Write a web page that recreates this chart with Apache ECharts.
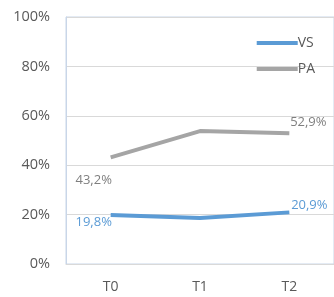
<!DOCTYPE html>
<html><head><meta charset="utf-8">
<script src="https://cdn.jsdelivr.net/npm/echarts@6/dist/echarts.min.js"></script>
<style>html,body{margin:0;padding:0;background:#fff}#c{width:334px;height:297px}</style>
</head><body><div id="c"></div>
<script>
var categories = ['T0', 'T1', 'T2'];
var vsValues = [19.8, 18.6, 20.9];
var paValues = [43.2, 53.8, 52.9];
var yTicks = [0, 20, 40, 60, 80, 100];

var fontFam = '"Open Sans", "Noto Sans", sans-serif';
function fmt(v) { return v.toFixed(1).replace('.', ',') + '%'; }
function labelled(values, color, idxOffsets) {
  return values.map(function (v, i) {
    var o = idxOffsets[i];
    if (!o) return { value: v, label: { show: false } };
    return { value: v, label: { show: true, position: 'inside', offset: o, color: color,
      fontSize: 13, fontFamily: fontFam, formatter: function (p) { return fmt(p.value); } } };
  });
}
var chart = echarts.init(document.getElementById('c'));
chart.setOption({
  animation: false,
  grid: { left: 66, right: 0, top: 17, bottom: 33, show: true, borderColor: '#c9d6e8', borderWidth: 1 },
  legend: {
    right: 14, top: 31, orient: 'vertical', itemWidth: 41, itemHeight: 4, itemGap: 12,
    icon: 'rect', textStyle: { color: '#595959', fontSize: 14, fontFamily: fontFam, padding: [0, 0, 0, -5] },
    data: ['VS', 'PA']
  },
  xAxis: {
    type: 'category', data: categories, boundaryGap: true,
    axisLine: { show: true, lineStyle: { color: '#d9d9d9' } }, axisTick: { show: false },
    axisLabel: { color: '#595959', fontSize: 14, fontFamily: fontFam, margin: 16 }
  },
  yAxis: {
    type: 'value', min: yTicks[0], max: yTicks[yTicks.length - 1], interval: 20,
    axisLine: { show: true, lineStyle: { color: '#c9d6e8' } }, axisTick: { show: false },
    splitLine: { lineStyle: { color: '#d9d9d9' } },
    axisLabel: { color: '#595959', fontSize: 14.5, fontFamily: fontFam, margin: 16, formatter: '{value}%' }
  },
  series: [
    { name: 'VS', type: 'line', data: labelled(vsValues, '#5b9bd5', [[-17, 7], null, [20, -7]]),
      showSymbol: true, symbol: 'circle', symbolSize: 0.1, lineStyle: { color: '#5b9bd5', width: 4 }, itemStyle: { color: '#5b9bd5' } },
    { name: 'PA', type: 'line', data: labelled(paValues, '#7f7f7f', [[-17, 23], null, [19, -11]]),
      showSymbol: true, symbol: 'circle', symbolSize: 0.1, lineStyle: { color: '#a5a5a5', width: 4 }, itemStyle: { color: '#a5a5a5' } }
  ]
});
</script></body></html>
